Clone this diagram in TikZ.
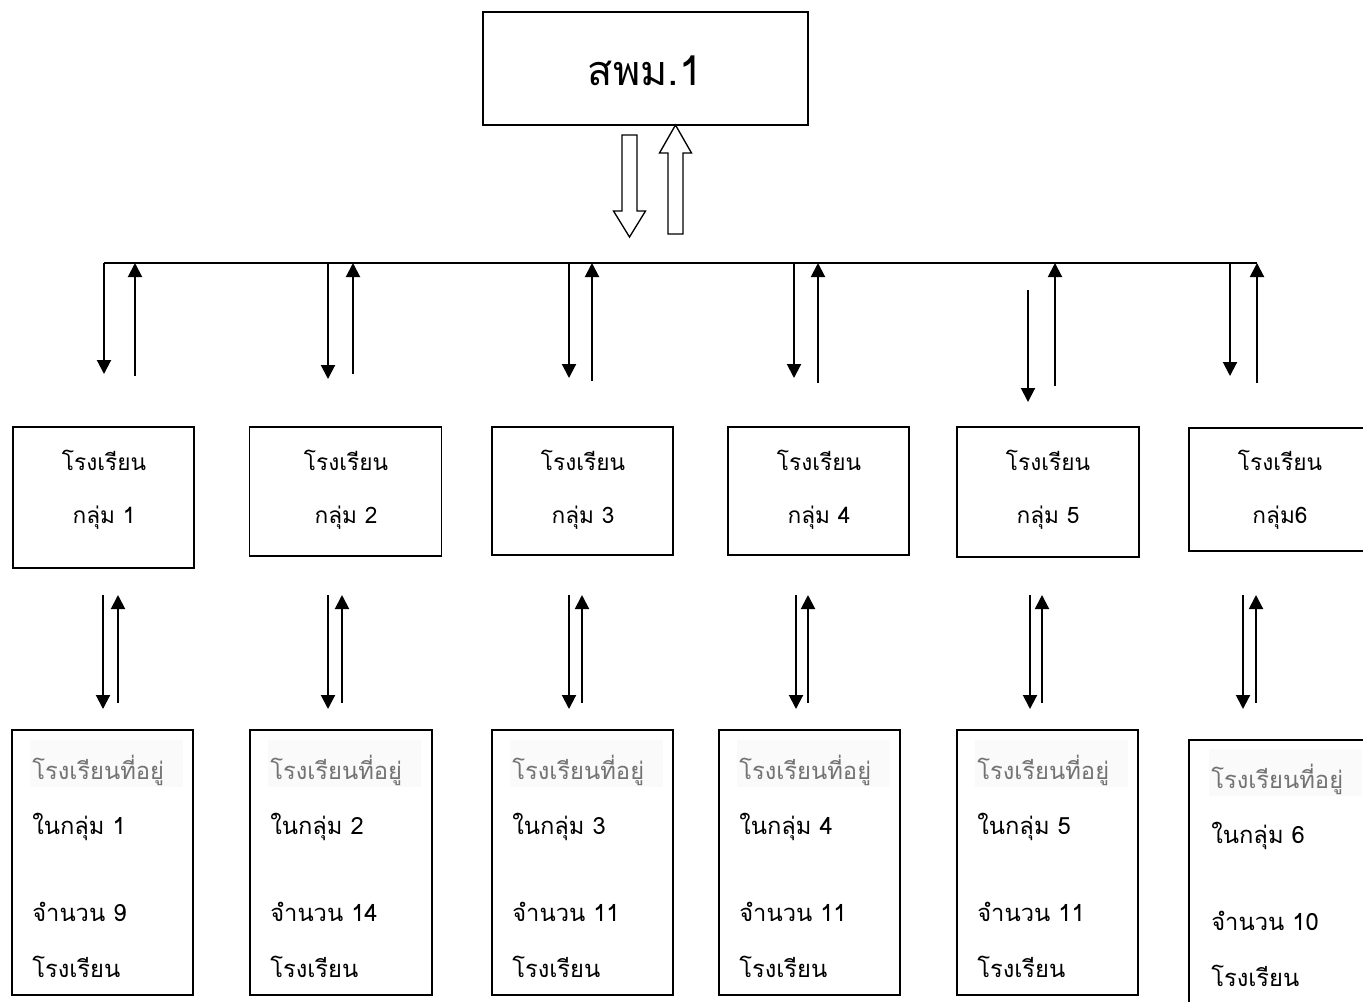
\documentclass[tikz,border=0pt]{standalone}
\usepackage{fontspec}
\newfontfamily\thai[Script=Thai]{Loma}
\usetikzlibrary{arrows.meta}
\newcommand\pxu{0.75pt}
\begin{document}
\begin{tikzpicture}[x=0.75pt,y=-0.75pt,
  topbox/.style={draw, line width=1.1pt, inner sep=0pt},
  box/.style={draw, line width=1.4pt, inner sep=0pt},
  toptxt/.style={font=\thai\fontsize{31}{36}\selectfont, anchor=base, inner sep=0pt},
  midtxt/.style={font=\thai\fontsize{17}{20}\selectfont, anchor=base, inner sep=0pt},
  lowtxt/.style={font=\thai\fontsize{17.8}{21}\selectfont, anchor=base west, inner sep=0pt},
  greytxt/.style={lowtxt, text=black!55},
  arr/.style={line width=1.5pt, -{Triangle[width=10.5pt,length=10.5pt]}},
  bus/.style={line width=1.5pt},
  hollow/.style={draw, line width=1pt, fill=white, line join=miter}]
\useasboundingbox (0,0) rectangle (1363,1001);

% top box
\node[topbox, minimum width=325*\pxu, minimum height=113*\pxu] (top) at (645.5,68.5) {};
\node[toptxt] (toptext) at (645,85) {สพม.1};

% hollow arrows
\coordinate (hdtip) at (629.5,237);
\draw[hollow] (622,135) -- (637,135) -- (637,211) -- (645.5,211) -- (hdtip) -- (613.5,211) -- (622,211) -- cycle;
\coordinate (hutip) at (675.5,125);
\draw[hollow] (668,234) -- (683,234) -- (683,153) -- (691.5,153) -- (hutip) -- (659.5,153) -- (668,153) -- cycle;

% bus
\coordinate (busL) at (104,263);
\coordinate (busR) at (1257,263);
\draw[bus] (busL) -- (busR);

% middle boxes
\node[box, minimum width=181*\pxu, minimum height=141*\pxu] (m1) at (103.5,497.5) {};
\node[box, minimum width=192*\pxu, minimum height=129*\pxu] (m2) at (345.5,491.5) {};
\node[box, minimum width=181*\pxu, minimum height=128*\pxu] (m3) at (582.5,491) {};
\node[box, minimum width=181*\pxu, minimum height=128*\pxu] (m4) at (818.5,491) {};
\node[box, minimum width=182*\pxu, minimum height=130*\pxu] (m5) at (1048,492) {};
\node[box, minimum width=200*\pxu, minimum height=123*\pxu] (m6) at (1289,489.5) {};

\foreach \i/\x/\lab in {1/104/กลุ่ม 1, 2/346/กลุ่ม 2, 3/583/กลุ่ม 3, 4/819/กลุ่ม 4, 5/1048/กลุ่ม 5, 6/1280/กลุ่ม6}{
  \node[midtxt] (m\i a) at (\x,470) {โรงเรียน};
  \node[midtxt] (m\i b) at (\x,523) {\lab};
}

% bottom boxes
\node[box, minimum width=181*\pxu, minimum height=265*\pxu] (b1) at (102.5,862.5) {};
\node[box, minimum width=182*\pxu, minimum height=265*\pxu] (b2) at (341,862.5) {};
\node[box, minimum width=181*\pxu, minimum height=265*\pxu] (b3) at (582.5,862.5) {};
\node[box, minimum width=181*\pxu, minimum height=265*\pxu] (b4) at (809.5,862.5) {};
\node[box, minimum width=181*\pxu, minimum height=265*\pxu] (b5) at (1047.5,862.5) {};
\node[box, minimum width=200*\pxu, minimum height=290*\pxu] (b6) at (1289,885) {};

\foreach \i/\x/\y/\n/\c in {1/32/0/1/9, 2/270/0/2/14, 3/512/0/3/11, 4/739/0/4/11, 5/977/0/5/11, 6/1211/9/6/10}{
  \fill[black!2] (\x-2,740+\y) rectangle (\x+151,787+\y);
  \node[greytxt] (b\i a) at (\x,779+\y) {โรงเรียนที่อยู่};
  \node[lowtxt] (b\i b) at (\x,834+\y) {ในกลุ่ม \n};
  \node[lowtxt] (b\i c) at (\x,921+\y) {จำนวน \c};
  \node[lowtxt] (b\i d) at (\x,977+\y) {โรงเรียน};
}

% upper thin arrows: i / x down / start down / tip down / x up / bottom up
\foreach \i/\xd/\sd/\td/\xu/\bu in {1/104/263/374/135/376, 2/328/263/379/353/374, 3/569/263/378/592/381, 4/794/263/378/818/383, 5/1028/290/402/1055/386, 6/1230/263/376/1257/383}{
  \coordinate (ud\i s) at (\xd,\sd);
  \coordinate (ud\i e) at (\xd,\td);
  \coordinate (uu\i s) at (\xu,\bu);
  \coordinate (uu\i e) at (\xu,263);
  \draw[arr] (ud\i s) -- (ud\i e);
  \draw[arr] (uu\i s) -- (uu\i e);
}

% lower thin arrows
\foreach \i/\xd/\xu in {1/103/118, 2/328/342, 3/569/582, 4/796/808, 5/1030/1042, 6/1243/1256}{
  \coordinate (ld\i s) at (\xd,595);
  \coordinate (ld\i e) at (\xd,709);
  \coordinate (lu\i s) at (\xu,703);
  \coordinate (lu\i e) at (\xu,595);
  \draw[arr] (ld\i s) -- (ld\i e);
  \draw[arr] (lu\i s) -- (lu\i e);
}
\end{tikzpicture}
\end{document}
